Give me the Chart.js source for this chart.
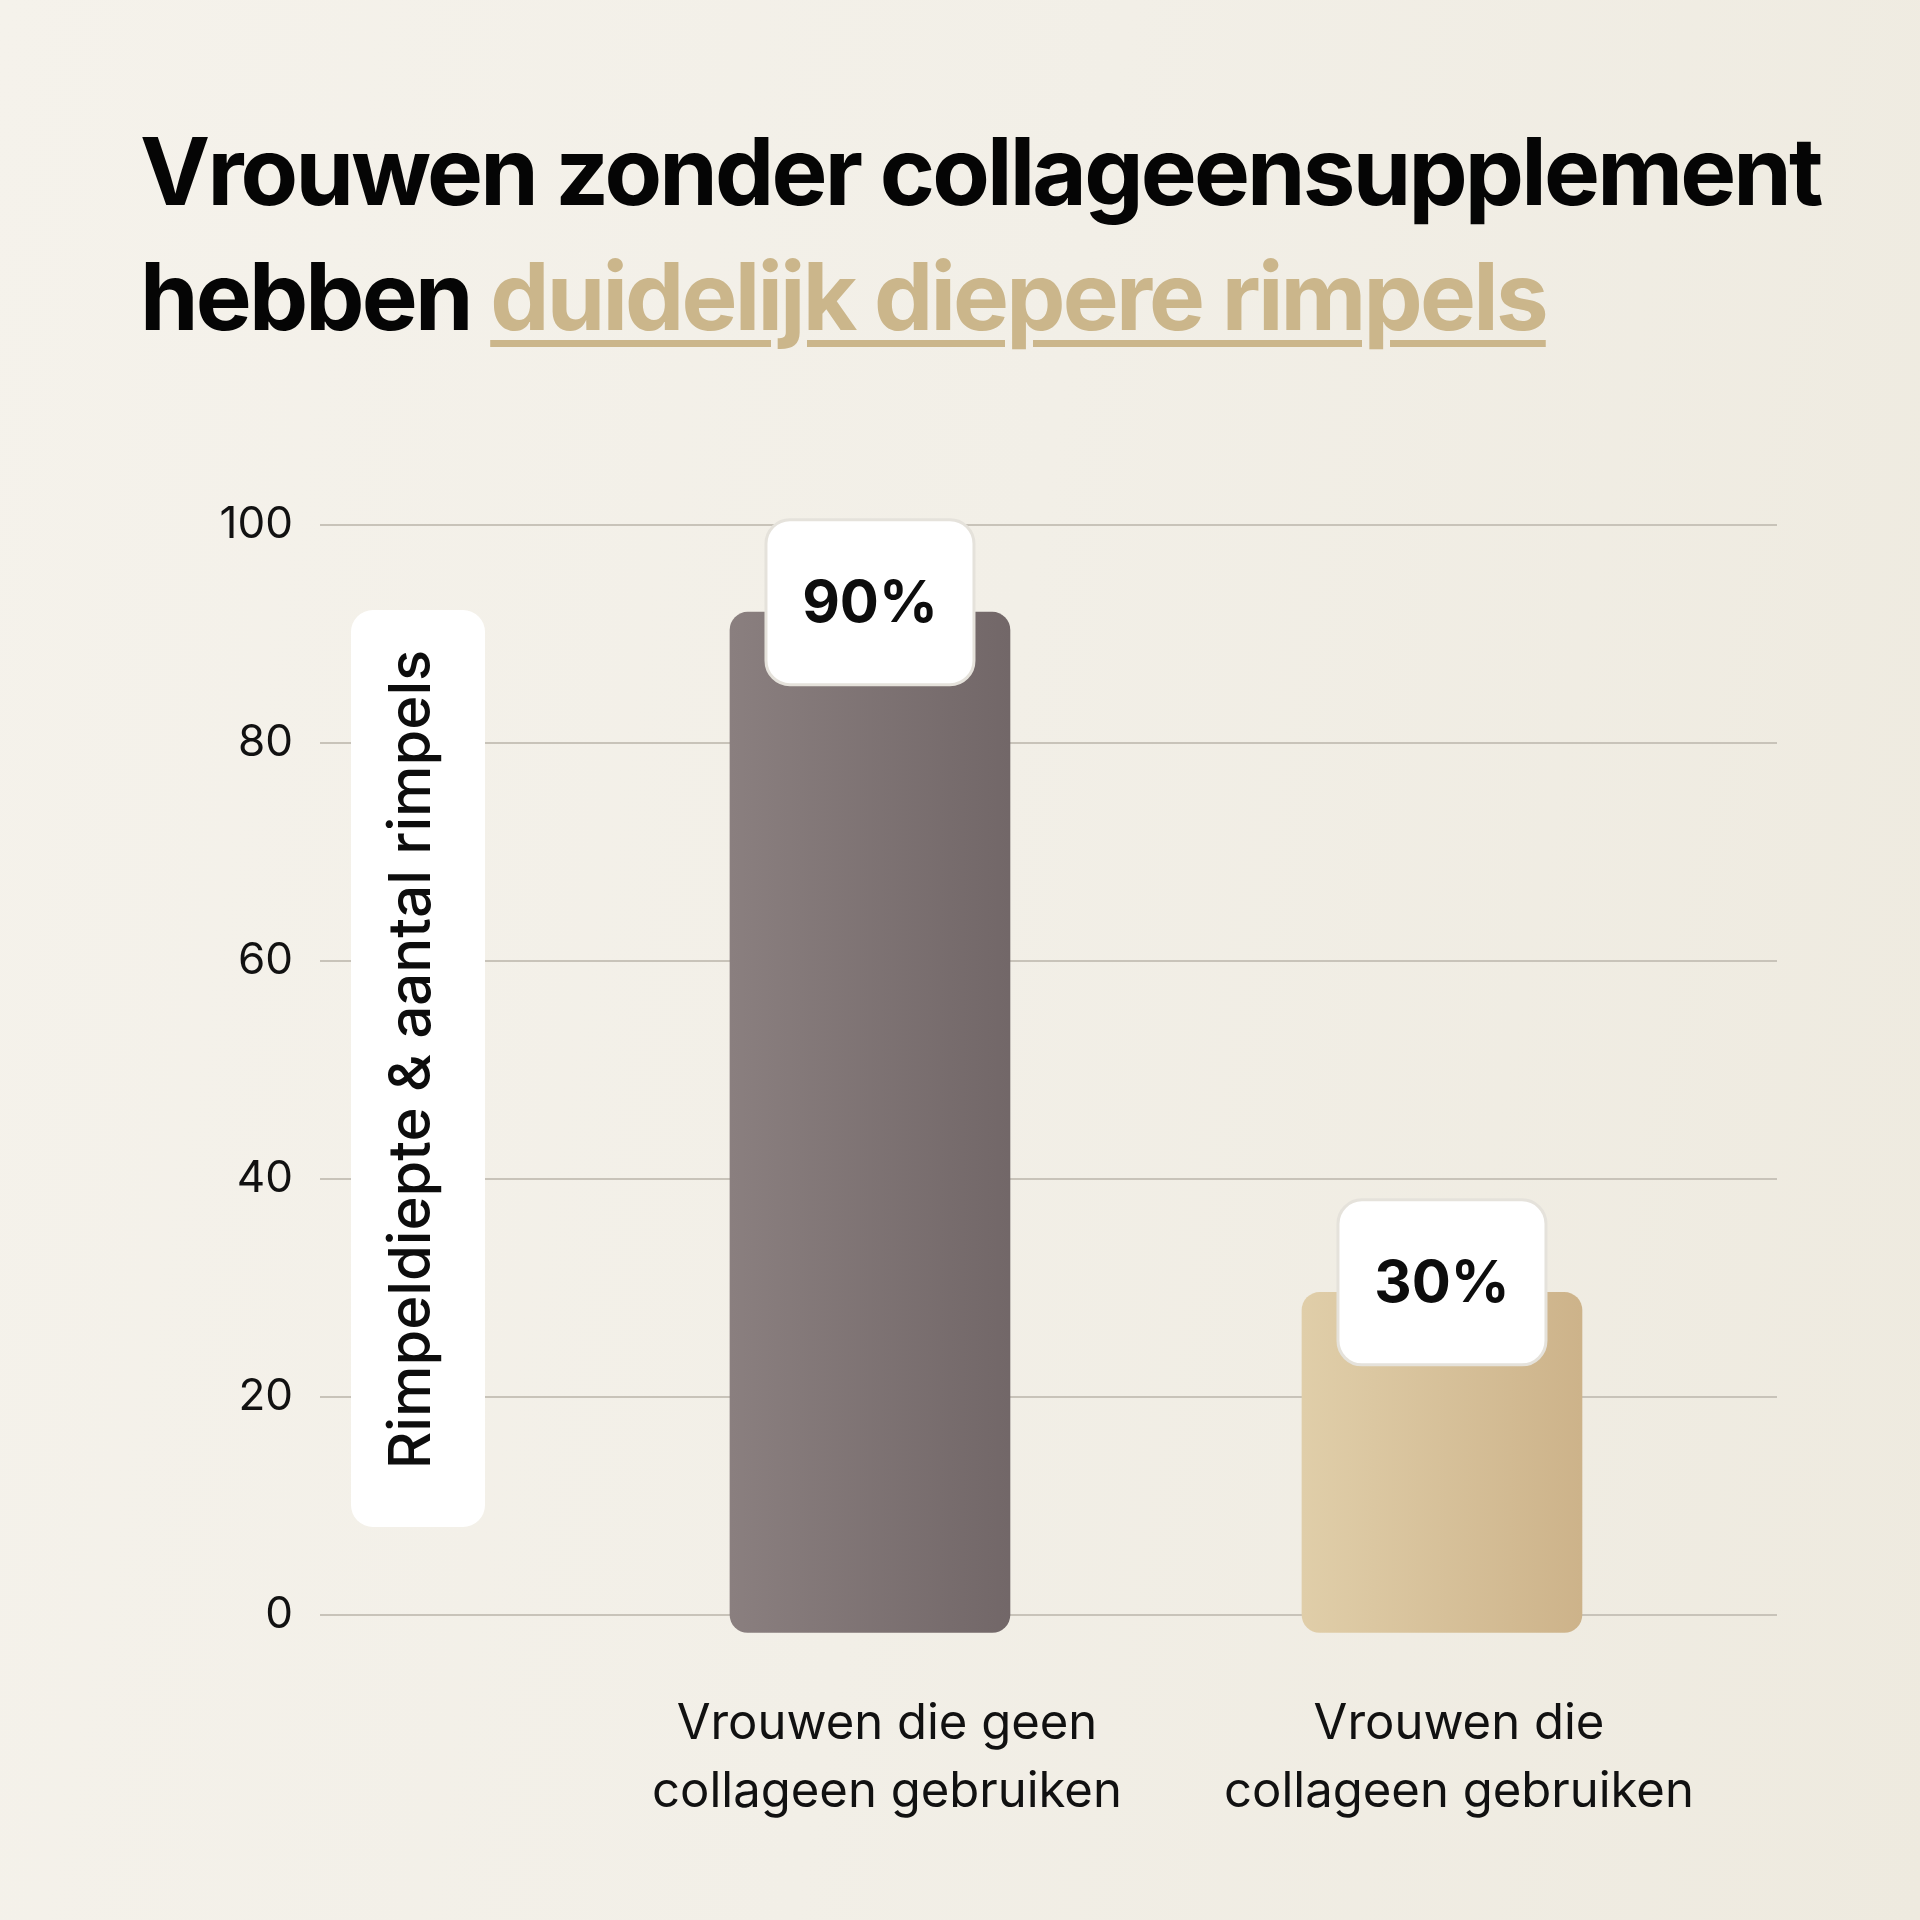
<!DOCTYPE html>
<html>
<head>
<meta charset="utf-8">
<script src="https://cdn.jsdelivr.net/npm/chart.js@4.4.0/dist/chart.umd.min.js"></script>
<style>
  html, body { margin: 0; padding: 0; }
  body {
    width: 1920px; height: 1920px; position: relative; overflow: hidden;
    background: linear-gradient(100deg, #f5f2eb 0%, #f2efe7 50%, #eeeadf 100%);
    font-family: Inter, sans-serif;
  }
  #titel {
    position: absolute; left: 140px; top: 109px; margin: 0;
    font: 700 94px/125px Inter, sans-serif; letter-spacing: -2.8px;
    color: #050505; white-space: nowrap;
  }
  #titel .accent {
    color: #cbb68b; text-decoration: underline;
    text-decoration-thickness: 7px; text-underline-offset: 10px;
  }
  #wrap { position: absolute; left: 0; top: 0; width: 1920px; height: 1920px; }
</style>
</head>
<body>
<h1 id="titel">Vrouwen zonder collageensupplement<br>hebben <span class="accent">duidelijk diepere rimpels</span></h1>
<div id="wrap"><canvas id="grafiek" width="1920" height="1920"></canvas></div>
<script>
// gegevens
const categorieen = [["Vrouwen die geen", "collageen gebruiken"], ["Vrouwen die", "collageen gebruiken"]];
const posities = [0, 1];
const onderkant = [-1.6, -1.6];
const waarden = [92.0, 29.6];
const etiketten = ["90%", "30%"];
const yTicks = [0, 20, 40, 60, 80, 100];
const asTitel = "Rimpeldiepte & aantal rimpels";

// kleuren (links -> rechts)
const kleuren = [["#8a7f7f", "#726768"], ["#e0cea9", "#cdb38a"]];

function verloop(ctx) {
  const chart = ctx.chart;
  const i = ctx.dataIndex;
  if (!chart.chartArea) return kleuren[i][0];
  const x = chart.scales.x.getPixelForValue(posities[i]);
  const g = chart.ctx.createLinearGradient(x - 140, 0, x + 140, 0);
  g.addColorStop(0, kleuren[i][0]);
  g.addColorStop(1, kleuren[i][1]);
  return g;
}

function rondeRect(c, x, y, w, h, r) {
  c.beginPath();
  c.roundRect(x, y, w, h, r);
}

const extraTekst = {
  id: "extraTekst",
  afterDatasetsDraw(chart) {
    const c = chart.ctx;
    const area = chart.chartArea;
    c.save();
    // as-titel in wit vak
    const bx = area.left + 31, by = 610, bw = 134, bh = 917;
    c.fillStyle = "#ffffff";
    rondeRect(c, bx, by, bw, bh, 22);
    c.fill();
    c.translate(bx + bw / 2 - 5, by + bh / 2 - 9);
    c.rotate(-Math.PI / 2);
    c.fillStyle = "#0d0d0d";
    c.font = "500 58px Inter";
    c.textAlign = "center";
    c.textBaseline = "middle";
    c.fillText(asTitel, 0, 0);
    c.restore();

    // waarde-labels
    const meta = chart.getDatasetMeta(0);
    meta.data.forEach((bar, i) => {
      const w = 208, h = 165;
      const cy = bar.y - 10;
      c.save();
      rondeRect(c, bar.x - w / 2, cy - h / 2, w, h, 24);
      c.fillStyle = "#ffffff";
      c.fill();
      c.lineWidth = 3;
      c.strokeStyle = "#e5e2db";
      c.stroke();
      c.fillStyle = "#0d0d0d";
      c.font = "700 58px Inter";
      c.textAlign = "center";
      c.textBaseline = "alphabetic";
      c.fillText(etiketten[i], bar.x, cy + 20);
      c.restore();
    });
  }
};

new Chart(document.getElementById("grafiek"), {
  type: "bar",
  data: {
    datasets: [{
      data: waarden.map((v, i) => ({ x: posities[i], y: [onderkant[i], v] })),
      backgroundColor: verloop,
      borderRadius: 18,
      borderSkipped: false,
      barThickness: 280,
      clip: false
    }]
  },
  options: {
    responsive: false,
    animation: false,
    layout: { padding: { left: 180, right: 143, top: 525, bottom: 0 } },
    plugins: { legend: { display: false }, tooltip: { enabled: false } },
    scales: {
      x: {
        type: "linear",
        offset: false,
        min: -0.9615,
        max: 1.5857,
        grid: { display: false, offset: false },
        border: { display: false },
        afterBuildTicks: (s) => { s.ticks = posities.map(v => ({ value: v })); },
        afterFit: (s) => { s.height = 305; },
        ticks: {
          autoSkip: false,
          maxRotation: 0,
          padding: 67,
          labelOffset: 17,
          color: "#111111",
          font: { family: "Inter", size: 49, lineHeight: 1.39 },
          callback: (v, i) => categorieen[i]
        }
      },
      y: {
        min: 0,
        max: 100,
        border: { display: false },
        grid: { color: "#c8c3b9", lineWidth: 2, drawTicks: false },
        afterBuildTicks: (s) => { s.ticks = yTicks.map(v => ({ value: v })); },
        afterFit: (s) => { s.width = 140; },
        ticks: {
          padding: 27,
          color: "#111111",
          font: { family: "Inter", size: 44 }
        }
      }
    }
  },
  plugins: [extraTekst]
});
</script>
</body>
</html>
